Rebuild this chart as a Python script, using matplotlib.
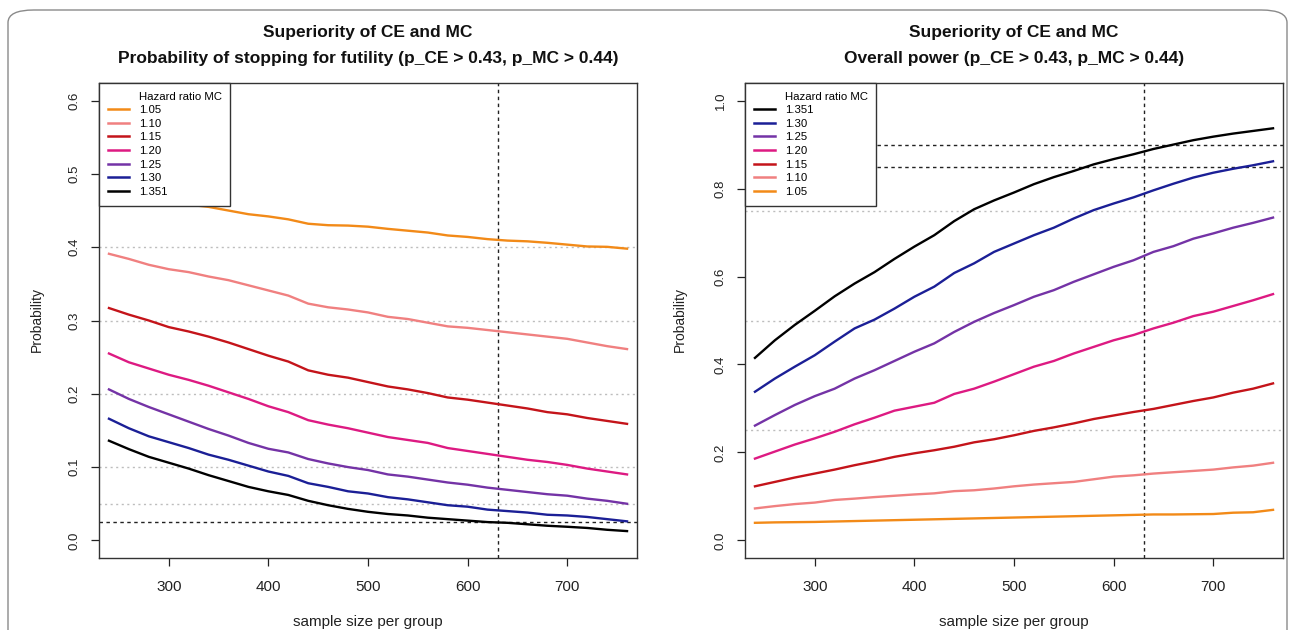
import matplotlib
matplotlib.use("Agg")
import matplotlib.pyplot as plt
from matplotlib.lines import Line2D
from matplotlib.patches import FancyBboxPatch

plt.rcParams['font.family'] = ['Liberation Sans', 'DejaVu Sans']

n = [240, 260, 280, 300, 320, 340, 360, 380, 400, 420, 440, 460, 480, 500,
     520, 540, 560, 580, 600, 620, 640, 660, 680, 700, 720, 740, 760]

hr_labels = ["1.05", "1.10", "1.15", "1.20", "1.25", "1.30", "1.351"]
colors = ["#F28A18", "#F08080", "#C4141A", "#DD1A82", "#7433A6", "#1B1F96", "#000000"]

# probability of stopping for futility
fut_105 = [0.478, 0.472, 0.467, 0.462, 0.458, 0.455, 0.450, 0.445, 0.442, 0.438, 0.432, 0.430, 0.4295, 0.428,
           0.425, 0.4225, 0.420, 0.416, 0.414, 0.411, 0.409, 0.408, 0.406, 0.4035, 0.401, 0.4005, 0.398]
fut_110 = [0.391, 0.384, 0.376, 0.370, 0.366, 0.360, 0.355, 0.348, 0.341, 0.334, 0.323, 0.318, 0.315, 0.311,
           0.305, 0.302, 0.297, 0.292, 0.290, 0.287, 0.284, 0.281, 0.278, 0.275, 0.270, 0.265, 0.261]
fut_115 = [0.317, 0.308, 0.300, 0.291, 0.285, 0.278, 0.270, 0.261, 0.252, 0.244, 0.232, 0.226, 0.222, 0.216,
           0.210, 0.206, 0.201, 0.195, 0.192, 0.188, 0.184, 0.180, 0.175, 0.172, 0.167, 0.163, 0.159]
fut_120 = [0.255, 0.243, 0.2345, 0.226, 0.219, 0.211, 0.202, 0.193, 0.183, 0.175, 0.164, 0.158, 0.153, 0.147,
           0.141, 0.137, 0.133, 0.126, 0.122, 0.118, 0.114, 0.110, 0.107, 0.103, 0.098, 0.094, 0.090]
fut_125 = [0.206, 0.193, 0.182, 0.172, 0.162, 0.152, 0.143, 0.133, 0.125, 0.120, 0.111, 0.105, 0.100, 0.096,
           0.090, 0.087, 0.083, 0.079, 0.076, 0.072, 0.069, 0.066, 0.063, 0.061, 0.057, 0.054, 0.050]
fut_130 = [0.166, 0.153, 0.142, 0.134, 0.126, 0.117, 0.110, 0.102, 0.094, 0.088, 0.078, 0.073, 0.067, 0.064,
           0.059, 0.056, 0.052, 0.048, 0.046, 0.042, 0.040, 0.038, 0.035, 0.034, 0.032, 0.029, 0.026]
fut_1351 = [0.136, 0.1245, 0.114, 0.106, 0.098, 0.089, 0.081, 0.073, 0.067, 0.062, 0.054, 0.048, 0.043, 0.039,
            0.036, 0.034, 0.031, 0.029, 0.027, 0.025, 0.024, 0.022, 0.020, 0.0186, 0.017, 0.0145, 0.0127]

# overall power
pow_105 = [0.040, 0.041, 0.0415, 0.042, 0.043, 0.044, 0.045, 0.046, 0.047, 0.048, 0.049, 0.050, 0.051, 0.052,
           0.053, 0.054, 0.055, 0.056, 0.057, 0.058, 0.059, 0.059, 0.0595, 0.060, 0.063, 0.064, 0.0695]
pow_110 = [0.0727, 0.078, 0.0826, 0.086, 0.092, 0.095, 0.0985, 0.1015, 0.1045, 0.107, 0.112, 0.114, 0.118, 0.123,
           0.127, 0.130, 0.133, 0.139, 0.145, 0.148, 0.152, 0.155, 0.158, 0.161, 0.166, 0.170, 0.1765]
pow_115 = [0.123, 0.133, 0.143, 0.152, 0.161, 0.171, 0.180, 0.190, 0.198, 0.205, 0.213, 0.223, 0.230, 0.239,
           0.249, 0.257, 0.266, 0.276, 0.284, 0.292, 0.299, 0.308, 0.317, 0.325, 0.336, 0.345, 0.357]
pow_120 = [0.186, 0.202, 0.218, 0.232, 0.247, 0.264, 0.279, 0.295, 0.304, 0.313, 0.333, 0.345, 0.361, 0.378,
           0.395, 0.408, 0.425, 0.440, 0.455, 0.467, 0.482, 0.495, 0.510, 0.520, 0.533, 0.546, 0.560]
pow_125 = [0.261, 0.285, 0.308, 0.328, 0.345, 0.368, 0.387, 0.408, 0.429, 0.448, 0.474, 0.497, 0.517, 0.535,
           0.554, 0.569, 0.588, 0.605, 0.622, 0.637, 0.656, 0.669, 0.686, 0.698, 0.711, 0.722, 0.734]
pow_130 = [0.338, 0.368, 0.395, 0.421, 0.452, 0.482, 0.502, 0.527, 0.554, 0.577, 0.608, 0.630, 0.656, 0.675,
           0.694, 0.711, 0.732, 0.751, 0.766, 0.780, 0.796, 0.811, 0.825, 0.836, 0.845, 0.853, 0.862]
pow_1351 = [0.415, 0.455, 0.490, 0.522, 0.555, 0.584, 0.610, 0.640, 0.668, 0.694, 0.726, 0.753, 0.773, 0.791,
            0.810, 0.826, 0.840, 0.855, 0.867, 0.878, 0.890, 0.900, 0.910, 0.918, 0.925, 0.931, 0.937]

fut = [fut_105, fut_110, fut_115, fut_120, fut_125, fut_130, fut_1351]
pw = [pow_105, pow_110, pow_115, pow_120, pow_125, pow_130, pow_1351]

W, H = 1291, 630
fig = plt.figure(figsize=(W / 100, H / 100), dpi=100)

# rounded frame around the figure
frame = FancyBboxPatch((8 / W, -0.05), 1279 / W, 1 - 10 / H + 0.05,
                       boxstyle="round,pad=0,rounding_size=0.02",
                       transform=fig.transFigure, fill=False, ec="#8a8a8a", lw=1.0)
fig.patches.append(frame)


def px_axes(x0, x1, y0, y1):
    return fig.add_axes([x0 / W, 1 - y1 / H, (x1 - x0) / W, (y1 - y0) / H])


grey = dict(color="#bdbdbd", lw=1.0, ls=(0, (1.5, 2.5)), zorder=1)
black = dict(color="#222222", lw=1.0, ls=(0, (2.5, 2.5)), zorder=1)


def panel(ax, series, leg_order, ylim, yticks, gray_h, black_h, title2, xl_px):
    for i in range(len(series)):
        ax.plot(n, series[i], color=colors[i], lw=1.7, zorder=3)
    for h in gray_h:
        ax.axhline(h, **grey)
    for h in black_h:
        ax.axhline(h, **black)
    ax.axvline(630, **black)
    ax.set_xlim(230, 770)
    rng = ylim[1] - ylim[0]
    ax.set_ylim(ylim[0] - 0.04 * rng, ylim[1] + 0.04 * rng)
    ax.set_xticks([300, 400, 500, 600, 700])
    ax.set_yticks(yticks)
    ax.set_yticklabels(["%.1f" % t for t in yticks], rotation=90, va="center")
    ax.tick_params(length=6, width=0.9, colors="#222222")
    ax.tick_params(axis="x", pad=10, labelsize=11)
    ax.tick_params(axis="y", pad=7, labelsize=9.5)
    for s in ax.spines.values():
        s.set_linewidth(1.0)
        s.set_color("#333333")

    handles = [Line2D([], [], color="none", label="Hazard ratio MC")]
    for i in leg_order:
        handles.append(Line2D([], [], color=colors[i], lw=1.8, label=hr_labels[i]))
    leg = ax.legend(handles=handles, loc="upper left", bbox_to_anchor=(0, 1),
                    borderaxespad=0, fancybox=False, framealpha=1, edgecolor="#333333",
                    fontsize=8.2, handlelength=1.85, handletextpad=0.9, labelspacing=0.32,
                    borderpad=0.75)
    leg.get_frame().set_linewidth(1.0)
    leg.set_zorder(5)

    cx = (xl_px[0] + xl_px[1]) / 2 / W
    fig.text(cx, 1 - 33 / H, "Superiority of CE and MC", ha="center", va="center",
             fontsize=12.5, fontweight="bold", color="#111111")
    fig.text(cx, 1 - 58 / H, title2, ha="center", va="center",
             fontsize=12.5, fontweight="bold", color="#111111")
    fig.text(cx, 1 - 622 / H, "sample size per group", ha="center", va="center",
             fontsize=11, color="#222222")


axL = px_axes(99, 637, 83, 558)
panel(axL, fut, [0, 1, 2, 3, 4, 5, 6], (0, 0.6), [0.0, 0.1, 0.2, 0.3, 0.4, 0.5, 0.6],
      [0.4, 0.3, 0.2, 0.1, 0.05], [0.025],
      "Probability of stopping for futility (p_CE > 0.43, p_MC > 0.44)", (99, 637))
fig.text(37 / W, 1 - 320 / H, "Probability", rotation=90, ha="center", va="center",
         fontsize=10, color="#222222")

axR = px_axes(745, 1283, 83, 558)
panel(axR, pw, [6, 5, 4, 3, 2, 1, 0], (0, 1.0), [0.0, 0.2, 0.4, 0.6, 0.8, 1.0],
      [0.75, 0.5, 0.25], [0.9, 0.85],
      "Overall power (p_CE > 0.43, p_MC > 0.44)", (745, 1283))
fig.text(680 / W, 1 - 320 / H, "Probability", rotation=90, ha="center", va="center",
         fontsize=10, color="#222222")

fig.savefig("out.png", dpi=100)
